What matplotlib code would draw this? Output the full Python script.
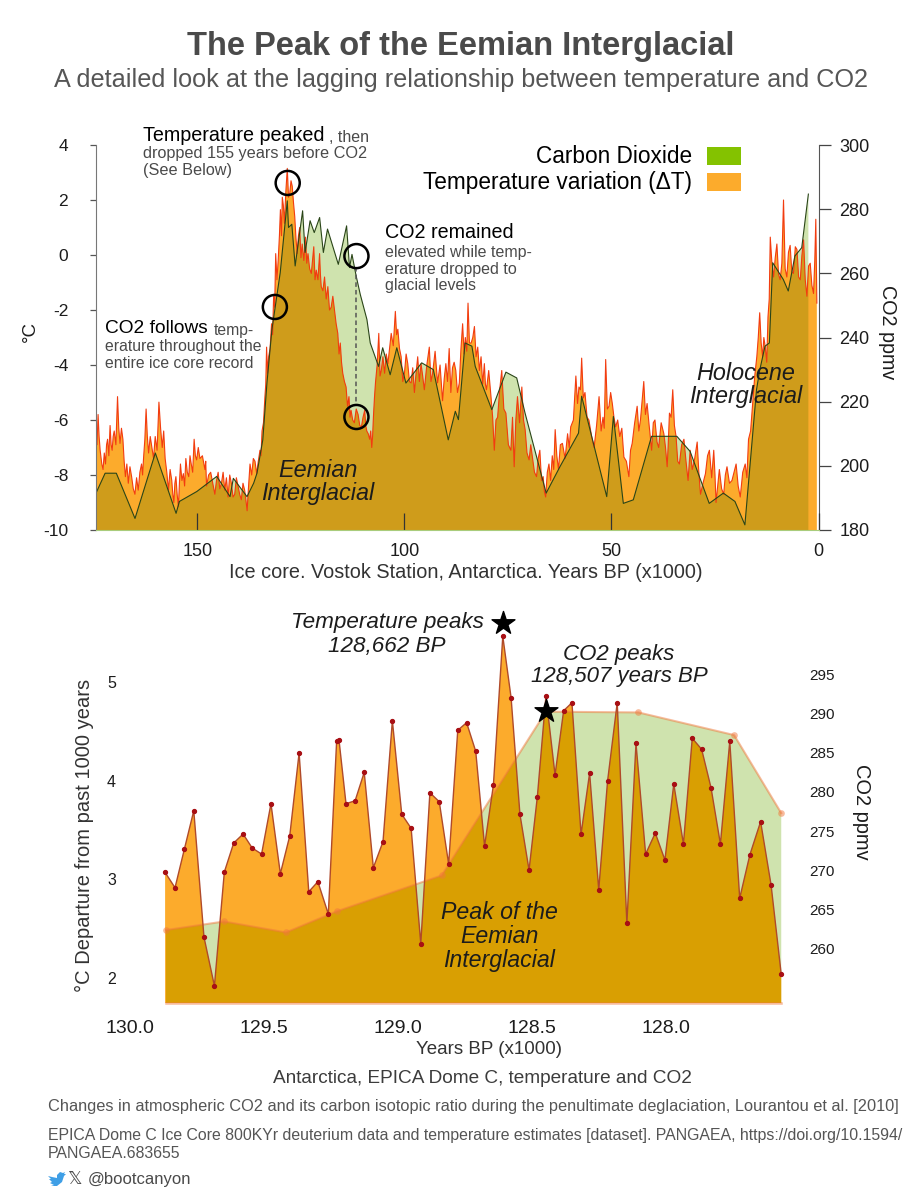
import numpy as np
import matplotlib
matplotlib.use("Agg")
import matplotlib.pyplot as plt
from matplotlib.patches import Rectangle, Polygon

plt.rcParams['font.family'] = ['Liberation Sans', 'DejaVu Sans']
plt.rcParams['axes.unicode_minus'] = False

W, H = 922, 1200

# =========================
# TOP PANEL: VOSTOK ICE CORE
# =========================

# (age in kyr BP, deg C)
temp_record = [
    (174.5, -6.0), (174.25, -6.9), (174.0, -5.8), (173.75, -6.6), (173.5, -7.1), (173.1, -7.6), (172.8, -7.8),
    (172.5, -7.2), (172.2, -7.6), (171.95, -6.9), (171.7, -6.7), (171.4, -7.3), (171.1, -6.2), (170.85, -6.9),
    (170.6, -7.1), (170.35, -6.6), (170.1, -6.4), (169.7, -6.9), (169.3, -5.15), (169.0, -6.3), (168.7, -6.85),
    (168.35, -6.3), (168.0, -6.7), (167.7, -7.5), (167.4, -8.06), (167.05, -7.6), (166.7, -8.3), (166.3, -7.7),
    (165.9, -8.06), (165.5, -8.5), (165.1, -8.7), (164.7, -8.1), (164.3, -8.55), (163.9, -7.9), (163.5, -7.6),
    (163.25, -8.0), (163.0, -7.35), (162.7, -6.7), (162.4, -5.6), (162.1, -6.6), (161.8, -7.2), (161.4, -6.6),
    (161.0, -7.0), (160.6, -7.4), (160.2, -6.6), (159.75, -7.1), (159.3, -5.35), (158.9, -6.3), (158.5, -7.0),
    (158.15, -6.4), (157.8, -7.4), (157.4, -7.9), (157.0, -8.55), (156.6, -7.8), (156.2, -8.2), (155.95, -8.7),
    (155.7, -9.0), (155.45, -8.3), (155.2, -8.06), (154.9, -8.7), (154.6, -9.15), (154.35, -8.3), (154.1, -7.6),
    (153.75, -8.2), (153.4, -7.95), (153.1, -8.4), (152.8, -7.4), (152.45, -7.9), (152.1, -8.06), (151.8, -7.3),
    (151.5, -7.6), (151.15, -7.9), (150.8, -6.7), (150.5, -7.3), (150.2, -7.45), (149.8, -7.0), (149.4, -7.4),
    (148.8, -7.3), (148.2, -7.8), (148.0, -7.5), (147.8, -8.4), (147.3, -8.0), (146.8, -7.9), (146.3, -8.3),
    (145.8, -8.7), (145.4, -8.2), (145.0, -7.9), (144.6, -8.5), (144.2, -8.3), (143.8, -7.9), (143.4, -8.55),
    (143.0, -8.1), (142.6, -8.8), (142.2, -8.0), (141.8, -8.3), (141.4, -8.8), (141.0, -8.7), (140.6, -8.1),
    (140.2, -8.4), (139.8, -8.7), (139.4, -8.9), (139.0, -8.3), (138.6, -8.55), (138.3, -8.9), (138.0, -9.3),
    (137.65, -8.4), (137.3, -7.6), (136.9, -8.0), (136.5, -7.4), (136.1, -7.5), (135.7, -7.95), (135.3, -7.5),
    (134.9, -7.1), (134.65, -7.3), (134.4, -6.4), (134.05, -6.1), (133.7, -5.15), (133.5, -4.7), (133.3, -3.35),
    (133.05, -4.3), (132.8, -3.7), (132.45, -3.4), (132.1, -2.5), (131.85, -2.9), (131.6, -1.5), (131.35, -1.9),
    (131.1, 0.05), (130.8, -0.9), (130.5, -0.2), (130.2, 0.7), (129.96, 1.65), (129.7, 0.7), (129.5, 2.1),
    (129.25, 1.8), (129.0, 1.15), (128.65, 2.3), (128.3, 3.15), (128.0, 2.1), (127.7, 2.25), (127.4, 2.7),
    (127.1, 2.5), (126.8, 1.9), (126.5, 1.4), (126.2, 0.6), (125.9, 0.05), (125.6, 0.7), (125.3, 1.0), (125.0, -0.1),
    (124.7, 0.4), (124.3, -0.2), (123.9, 0.65), (123.6, -0.3), (123.3, 0.05), (122.9, -0.5), (122.5, -0.67),
    (122.2, -0.2), (121.9, 0.3), (121.6, -0.9), (121.3, -0.55), (120.9, -0.9), (120.5, 0.05), (120.3, -0.7),
    (120.1, -1.15), (119.7, -1.3), (119.3, -0.8), (118.9, -1.6), (118.5, -1.15), (118.1, -2.0), (117.7, -1.9),
    (117.3, -1.5), (116.9, -2.0), (116.5, -2.5), (116.1, -2.85), (115.8, -3.6), (115.5, -3.2), (115.2, -3.9),
    (114.9, -4.3), (114.5, -4.6), (114.1, -4.8), (113.75, -5.5), (113.4, -5.15), (113.15, -5.9), (112.9, -5.65),
    (112.5, -6.0), (112.1, -6.1), (111.65, -5.6), (111.2, -5.8), (110.8, -6.2), (110.4, -6.25), (110.0, -5.9),
    (109.6, -5.65), (109.35, -6.2), (109.1, -6.4), (108.75, -6.5), (108.4, -6.7), (108.15, -6.4), (107.9, -7.0),
    (107.7, -6.6), (107.5, -5.9), (107.25, -5.2), (107.0, -4.65), (106.6, -4.0), (106.2, -2.85), (105.9, -4.4),
    (105.6, -4.2), (105.2, -3.7), (104.8, -4.3), (104.4, -3.6), (104.0, -3.95), (103.6, -3.4), (103.2, -2.85),
    (102.7, -3.3), (102.2, -2.05), (101.9, -2.9), (101.6, -2.7), (101.2, -3.4), (100.8, -3.7), (100.4, -4.6),
    (100.0, -4.3), (99.6, -3.6), (99.2, -3.95), (98.8, -4.6), (98.4, -4.65), (98.0, -4.1), (97.6, -5.0), (97.2, -4.3),
    (96.8, -3.7), (96.4, -4.6), (96.0, -3.95), (95.6, -4.4), (95.2, -4.9), (94.6, -4.0), (94.0, -3.35), (93.6, -4.6),
    (93.2, -4.3), (92.6, -3.5), (92.0, -4.65), (91.4, -4.0), (90.8, -5.3), (90.4, -4.5), (90.0, -3.95), (89.6, -4.6),
    (89.2, -3.4), (88.8, -5.0), (88.4, -4.1), (88.0, -3.9), (87.6, -4.2), (87.2, -5.0), (86.75, -4.65), (86.35, -3.4),
    (85.95, -2.5), (85.6, -3.6), (85.3, -3.0), (84.95, -3.5), (84.65, -1.75), (84.3, -3.2), (83.9, -3.2), (83.5, -3.0),
    (83.1, -2.6), (82.7, -3.7), (82.3, -3.35), (81.9, -4.2), (81.5, -3.7), (81.1, -4.7), (80.7, -3.95), (80.45, -4.7),
    (80.2, -4.9), (79.65, -4.2), (79.1, -5.15), (78.7, -5.9), (78.3, -7.1), (77.9, -6.0), (77.5, -5.9), (77.0, -4.9),
    (76.5, -4.2), (76.0, -5.6), (75.5, -5.75), (74.9, -6.9), (74.3, -7.1), (73.9, -5.9), (73.5, -7.7), (73.1, -6.0),
    (72.7, -5.15), (72.2, -6.1), (71.65, -4.8), (71.25, -6.0), (70.85, -6.35), (70.4, -7.2), (69.9, -7.45),
    (69.5, -6.9), (69.1, -7.35), (68.6, -7.9), (68.1, -8.06), (67.7, -7.4), (67.3, -7.1), (66.9, -8.2), (66.5, -8.06),
    (66.2, -8.6), (65.9, -8.8), (65.5, -7.9), (65.1, -7.6), (64.7, -8.2), (64.3, -7.3), (63.95, -7.8), (63.6, -6.35),
    (63.2, -7.3), (62.8, -7.8), (62.35, -6.9), (61.85, -6.85), (61.2, -7.4), (60.6, -6.5), (60.2, -7.0), (59.85, -6.25),
    (59.2, -6.0), (58.6, -4.4), (58.2, -5.4), (57.85, -4.8), (57.5, -4.9), (57.2, -3.75), (56.8, -5.2), (56.4, -5.0),
    (55.9, -5.9), (55.45, -6.0), (54.8, -6.6), (54.2, -7.0), (53.6, -6.2), (53.0, -5.15), (52.5, -6.4), (52.05, -5.9),
    (51.75, -6.3), (51.4, -3.8), (51.0, -5.6), (50.6, -5.5), (50.2, -5.0), (49.8, -5.4), (49.4, -5.9), (49.0, -6.25),
    (48.5, -6.0), (48.0, -6.6), (47.5, -6.3), (47.0, -7.35), (46.4, -7.5), (45.8, -8.06), (45.4, -7.1), (45.0, -6.85),
    (44.4, -6.1), (43.8, -5.5), (43.4, -6.4), (43.0, -6.0), (42.6, -5.3), (42.2, -4.6), (41.8, -5.8), (41.4, -5.4),
    (40.9, -6.2), (40.3, -7.1), (39.9, -6.1), (39.5, -6.0), (39.0, -6.8), (38.6, -7.0), (38.0, -6.1), (37.35, -6.5),
    (36.95, -7.0), (36.55, -7.7), (36.3, -6.9), (36.0, -5.75), (35.6, -5.9), (35.2, -4.9), (34.8, -6.2), (34.4, -6.6),
    (34.0, -7.5), (33.6, -7.6), (33.05, -6.9), (32.5, -6.7), (32.0, -7.5), (31.5, -8.2), (31.0, -7.1), (30.5, -7.8),
    (29.9, -7.4), (29.3, -6.8), (28.9, -7.9), (28.5, -8.7), (27.9, -8.3), (27.3, -7.95), (26.8, -7.3), (26.35, -7.1),
    (25.8, -8.1), (25.3, -7.1), (25.0, -8.0), (24.75, -9.0), (24.35, -8.4), (23.95, -7.8), (23.4, -8.5), (22.9, -8.7),
    (22.5, -8.0), (22.1, -7.7), (21.5, -8.3), (20.9, -8.2), (20.4, -7.9), (19.9, -7.6), (19.4, -8.4), (18.9, -8.8),
    (18.3, -7.9), (17.7, -7.6), (17.3, -8.1), (16.9, -6.7), (16.4, -6.4), (15.9, -5.4), (15.4, -4.4), (14.9, -3.7),
    (14.55, -3.0), (14.2, -2.1), (13.85, -3.2), (13.5, -3.7), (13.2, -3.0), (12.85, -3.35), (12.5, -3.9), (12.2, -2.25),
    (11.9, -1.6), (11.65, 0.65), (11.25, -0.3), (10.85, -0.8), (10.45, -0.1), (10.05, 0.4), (9.65, -0.7), (9.25, -0.9),
    (8.85, -0.3), (8.45, 2.0), (8.05, -0.5), (7.65, -0.8), (7.25, 0.1), (6.85, 0.35), (6.45, -0.6), (6.05, -0.67),
    (5.6, 0.3), (5.2, 0.2), (4.8, -0.8), (4.4, -0.9), (4.0, 0.0), (3.6, 0.55), (3.2, -0.9), (2.8, -1.5), (2.4, -0.4),
    (2.0, -0.3), (1.6, -1.1), (1.2, -1.4), (0.9, -0.2), (0.65, 1.3), (0.5, -0.6), (0.4, -1.75),
]
temp_age = [p[0] for p in temp_record]
temp_val = [p[1] for p in temp_record]

co2_age = [174.5, 172.3, 169.6, 165.1, 160.2, 155.2, 154.4, 150.2, 145.4, 142.2, 141.4, 138.1, 136.5, 135.7, 134.3,
           133.3, 132.1, 130.1, 128.4, 128.1, 127.3, 126.5, 124.7, 124.1, 122.9, 121.9, 120.6, 119.7, 118.7, 116.1,
           114.1, 113.4, 112.8, 111.8, 110.8, 109.2, 108.4, 106.4, 105.4, 103.6, 102.0, 99.8, 96.0, 93.2, 89.6, 87.9,
           87.15, 85.55, 83.9, 83.1, 79.1, 75.7, 73.1, 71.1, 66.0, 62.65, 58.2, 57.45, 51.4, 49.8, 47.4, 45.0, 40.6,
           34.5, 31.3, 26.7, 23.3, 20.5, 18.1, 15.3, 14.5, 13.25, 12.2, 11.4, 8.85, 7.65, 6.05, 4.4, 2.8]
co2_val = [191.5, 197.7, 197.7, 183.6, 204.0, 185.2, 188.9, 192.0, 196.7, 190.4, 196.1, 190.4, 194.6, 197.7, 208.1,
           225.8, 242.5, 260.2, 282.6, 274.3, 275.3, 262.3, 279.5, 266.5, 276.4, 272.7, 277.4, 266.5, 273.8, 262.8,
           274.8, 261.8, 265.9, 259.2, 253.4, 245.6, 238.3, 231.0, 236.8, 228.4, 236.8, 225.8, 232.1, 230.0, 208.1, 217.0,
           214.4, 238.3, 237.3, 231.0, 217.5, 229.2, 227.4, 216.5, 191.5, 199.8, 210.2, 221.7, 190.4, 215.4, 188.3, 189.4, 209.2,
           209.2, 204.5, 188.3, 191.5, 188.9, 181.6, 223.75, 230.0, 237.3, 238.3, 263.3, 258.1, 254.5, 265.4, 268.0, 284.7]

top_xticks = [150, 100, 50, 0]
top_temp_ticks = [4, 2, 0, -2, -4, -6, -8, -10]
top_co2_ticks = [300, 280, 260, 240, 220, 200, 180]

# circled spots on the top panel (age, deg C)
ring_age = [128.2, 131.3, 111.6, 111.6]
ring_temp = [2.62, -1.89, -0.04, -5.89]

# =========================
# BOTTOM PANEL: EPICA DOME C
# =========================

detail_age = [129.869, 129.832, 129.797, 129.762, 129.724, 129.685, 129.648, 129.613, 129.578, 129.544, 129.509,
              129.474, 129.439, 129.404, 129.369, 129.333, 129.299, 129.26, 129.229, 129.22, 129.194, 129.16, 129.126,
              129.092, 129.056, 129.021, 128.986, 128.951, 128.915, 128.881, 128.846, 128.811, 128.777, 128.744,
              128.71, 128.677, 128.644, 128.609, 128.578, 128.545, 128.511, 128.48, 128.448, 128.414, 128.382,
              128.351, 128.317, 128.285, 128.251, 128.218, 128.182, 128.146, 128.112, 128.076, 128.04, 128.004,
              127.971, 127.935, 127.902, 127.867, 127.832, 127.797, 127.762, 127.725, 127.687, 127.647, 127.608, 127.57]
detail_temp = [3.07, 2.915, 3.307, 3.695, 2.415, 1.92, 3.074, 3.368, 3.459, 3.317, 3.256,
               3.766, 3.057, 3.439, 4.28, 2.874, 2.976, 2.648, 4.40, 4.408, 3.766, 3.796, 4.084,
               3.118, 3.381, 4.607, 3.659, 3.517, 2.348, 3.877, 3.786, 3.155, 4.51, 4.587,
               4.297, 3.337, 3.955, 5.462, 4.84, 3.659, 3.094, 3.837, 4.857, 4.057, 4.708,
               4.789, 3.456, 4.077, 2.895, 3.996, 4.789, 2.554, 4.378, 3.256, 3.469, 3.196,
               3.966, 3.358, 4.429, 4.317, 3.928, 3.358, 4.398, 2.808, 3.249, 3.584, 2.945, 2.037]

detail_co2_age = [129.866, 129.649, 129.418, 129.229, 128.837, 128.448, 128.103, 127.746, 127.57]
detail_co2 = [262.3, 263.4, 262.0, 264.7, 269.3, 290.3, 290.2, 287.3, 277.3]

detail_xticks = [130.0, 129.5, 129.0, 128.5, 128.0]
detail_temp_ticks = [5, 4, 3, 2]
detail_co2_ticks = [295, 290, 285, 280, 275, 270, 265, 260]

# star markers (age, deg C)
star_age = [128.609, 128.448]
star_temp = [5.597, 4.705]

# =========================
# COLOURS
# =========================

GREEN_LIGHT = '#cfe3ae'
ORANGE = '#fcab2c'
OVERLAP_TOP = '#cf9c1b'
OVERLAP_BOTTOM = '#d99f02'
RED = '#f23c10'
DARK_GREEN = '#2a4518'
TEXT_DARK = '#1c1c1c'
TEXT_GREY = '#4a4a4a'


def px_axes(x0, y0, x1, y1):
    # axes box from picture pixels, y measured from the top
    return [x0 / W, 1 - y1 / H, (x1 - x0) / W, (y1 - y0) / H]


def label(x, y, s, size=12, color=TEXT_DARK, ha='left', **kw):
    return fig.text(x / W, 1 - (y + 1.5) / H, s, fontsize=size, color=color, ha=ha, va='center', **kw)


def draw_fills(ax_c, ax_t, t_x, t_y, t_base, c_x, c_y, c_base, overlap):
    # green under, orange over it, then the part where both overlap
    xs = np.r_[c_x[0], c_x, c_x[-1]]
    ys = np.r_[c_base, c_y, c_base]
    ax_c.fill(xs, ys, color=GREEN_LIGHT, lw=0)
    temp_poly = ax_t.fill(np.r_[t_x[0], t_x, t_x[-1]], np.r_[t_base, t_y, t_base], color=ORANGE, lw=0)[0]
    over_poly = ax_t.fill(xs, ys, color=overlap, lw=0, transform=ax_c.transData)[0]
    over_poly.set_clip_path(temp_poly)


fig = plt.figure(figsize=(W / 100, H / 100), dpi=100)

# =========================
# TOP PANEL
# =========================

top_box = px_axes(96, 145, 818.5, 530)
ax_co2 = fig.add_axes(top_box)
ax_temp = fig.add_axes(top_box, facecolor='none')

draw_fills(ax_co2, ax_temp, temp_age, temp_val, -10, co2_age, co2_val, 180, OVERLAP_TOP)
ax_temp.plot(temp_age, temp_val, color=RED, lw=0.8)
ax_temp.plot(co2_age, co2_val, color=DARK_GREEN, lw=0.8, transform=ax_co2.transData)

ax_temp.scatter(ring_age, ring_temp, s=300, facecolor='none', edgecolor='black', linewidth=1.8, zorder=5)
ax_temp.plot([111.6, 111.6], [-0.45, -5.45], color='#555555', lw=1.1, ls=(0, (3, 2)), zorder=4)

for ax in (ax_co2, ax_temp):
    ax.set_xlim(174.5, 0.36)
ax_co2.set_ylim(180, 300)
ax_temp.set_ylim(-10, 4)

ax_co2.xaxis.set_visible(False)
ax_co2.yaxis.tick_right()
ax_co2.set_yticks(top_co2_ticks)
ax_co2.tick_params(axis='y', length=8.6, width=0.9, color='#444444', labelsize=13, labelcolor=TEXT_DARK, pad=6.5)
ax_co2.spines[['top', 'left', 'bottom']].set_visible(False)
ax_co2.spines['right'].set_color('#555555')

ax_temp.set_yticks(top_temp_ticks)
ax_temp.tick_params(axis='y', length=4.3, width=0.9, color='#555555', labelsize=12.5, labelcolor=TEXT_DARK, pad=15.7)
ax_temp.set_xticks(top_xticks)
ax_temp.tick_params(axis='x', direction='in', length=12, width=0.9, color='#333333',
                    labelsize=13, labelcolor=TEXT_DARK, pad=9)
ax_temp.spines[['top', 'right']].set_visible(False)
ax_temp.spines['left'].set_color('#777777')
ax_temp.spines['bottom'].set_color('#a9cc7c')

# =========================
# BOTTOM PANEL
# =========================

low_box = px_axes(130, 620, 800, 1003)
ax_co2b = fig.add_axes(low_box, facecolor='none')
ax_tempb = fig.add_axes(low_box, facecolor='none')

draw_fills(ax_co2b, ax_tempb, detail_age, detail_temp, 1.747, detail_co2_age, detail_co2, 252.95, OVERLAP_BOTTOM)

# CO2 line is see-through, pink on the green and orange on the fills
line_co2 = dict(color='#f0783c', alpha=0.5, transform=ax_co2b.transData)
ax_tempb.plot(detail_co2_age, detail_co2, lw=1.5, marker='o', ms=4.8, mew=0, **line_co2)
ax_tempb.plot([detail_co2_age[0], detail_co2_age[-1]], [252.95, 252.95], lw=1.8, clip_on=False, **line_co2)

ax_tempb.plot(detail_age, detail_temp, color='#b04a2a', lw=1.0, marker='o', ms=2.8, mfc='#a80f14', mec='#a80f14')
ax_tempb.scatter(star_age, star_temp, marker='*', s=300, color='black', zorder=6, clip_on=False)

for ax in (ax_co2b, ax_tempb):
    ax.set_xlim(130, 127.5)
    ax.spines[:].set_visible(False)
ax_co2b.set_ylim(252.95, 302.05)
ax_tempb.set_ylim(1.747, 5.627)

ax_co2b.xaxis.set_visible(False)
ax_co2b.yaxis.tick_right()
ax_co2b.set_yticks(detail_co2_ticks)
ax_co2b.tick_params(axis='y', length=0, labelsize=11, labelcolor=TEXT_DARK, pad=7)

ax_tempb.set_yticks(detail_temp_ticks)
ax_tempb.tick_params(axis='y', length=0, labelsize=11.5, labelcolor=TEXT_DARK, pad=10)
ax_tempb.set_xticks(detail_xticks, [f'{v:.1f}' for v in detail_xticks])
ax_tempb.tick_params(axis='x', length=0, labelsize=14, labelcolor=TEXT_DARK, pad=12.5)

# =========================
# TITLES AND NOTES
# =========================

label(461, 45, 'The Peak of the Eemian Interglacial', size=23.5, color='#4a4a4a', ha='center', fontweight='bold')
label(461, 79, 'A detailed look at the lagging relationship between temperature and CO2', size=18.2,
      color='#565656', ha='center')

# legend, placed by hand like the original
label(692, 155, 'Carbon Dioxide', size=16.3, ha='right', color='black')
label(692, 181, 'Temperature variation (ΔT)', size=16.3, ha='right', color='black')
fig.add_artist(Rectangle((707 / W, 1 - 165 / H), 34 / W, 18 / H, transform=fig.transFigure, color='#84c200', lw=0))
fig.add_artist(Rectangle((707 / W, 1 - 191 / H), 34 / W, 18 / H, transform=fig.transFigure, color=ORANGE, lw=0))

label(143, 134, 'Temperature peaked', size=14.2, color='black')
label(329, 136, ', then', size=11.5, color=TEXT_GREY)
label(143, 152, 'dropped 155 years before CO2', size=11.7, color=TEXT_GREY)
label(143, 169, '(See Below)', size=11.7, color=TEXT_GREY)

label(385, 231, 'CO2 remained', size=14.2, color='black')
label(385, 251, 'elevated while temp-', size=11.5, color=TEXT_GREY)
label(385, 268, 'erature dropped to', size=11.5, color=TEXT_GREY)
label(385, 284, 'glacial levels', size=11.5, color=TEXT_GREY)

label(105, 327, 'CO2 follows', size=13.8, color='black')
label(214, 329, 'temp-', size=11.3, color=TEXT_GREY)
label(105, 345, 'erature throughout the', size=11.3, color=TEXT_GREY)
label(105, 362, 'entire ice core record', size=11.3, color=TEXT_GREY)

label(318, 469, 'Eemian', size=16.8, ha='center', style='italic')
label(318, 492, 'Interglacial', size=16.8, ha='center', style='italic')
label(746, 372, 'Holocene', size=16.8, ha='center', style='italic')
label(746, 395, 'Interglacial', size=16.8, ha='center', style='italic')

label(30, 330, '°C', size=13.5, ha='center', rotation=90)
label(887, 331, 'CO2 ppmv', size=14.2, ha='center', rotation=270)
label(466, 571, 'Ice core. Vostok Station, Antarctica. Years BP (x1000)', size=14.3, ha='center', color='#333333')

label(387, 621, 'Temperature peaks', size=16.2, ha='center', style='italic')
label(387, 645, '128,662 BP', size=16.2, ha='center', style='italic')
label(619, 653, 'CO2 peaks', size=16, ha='center', style='italic')
label(619, 675, '128,507 years BP', size=16, ha='center', style='italic')
label(499, 911, 'Peak of the', size=16.7, ha='center', style='italic')
label(499, 935, 'Eemian', size=16.7, ha='center', style='italic')
label(499, 959, 'Interglacial', size=16.7, ha='center', style='italic')

label(84, 834, '°C Departure from past 1000 years', size=14.5, ha='center', rotation=90, color='#333333')
label(861, 810, 'CO2 ppmv', size=14.4, ha='center', rotation=270)
label(489, 1048, 'Years BP (x1000)', size=13.5, ha='center', color='#333333')
label(482, 1077, 'Antarctica, EPICA Dome C, temperature and CO2', size=13.7, ha='center', color='#3c3c3c')

label(48, 1105, 'Changes in atmospheric CO2 and its carbon isotopic ratio during the penultimate deglaciation, '
      'Lourantou et al. [2010]', size=11.8, color='#555555')
label(48, 1134, 'EPICA Dome C Ice Core 800KYr deuterium data and temperature estimates [dataset]. PANGAEA, '
      'https://doi.org/10.1594/', size=11.47, color='#555555')
label(48, 1152, 'PANGAEA.683655', size=11.47, color='#555555')

# small bird and X next to the handle
bird_xy = [(48, 1176), (51, 1179), (49, 1179), (52, 1182), (50, 1183), (54, 1185), (51, 1186), (57, 1186),
           (62, 1182), (64, 1176), (66, 1174), (64, 1174), (65, 1172), (63, 1173), (60, 1172), (57, 1175),
           (57, 1178), (52, 1177)]
fig.add_artist(Polygon([(x / W, 1 - y / H) for x, y in bird_xy], closed=True, transform=fig.transFigure,
                       color='#3f9fe6', lw=0))
label(67, 1178, '𝕏', size=13, color='#4a4a4a', family=['DejaVu Sans', 'Liberation Sans'])
label(88, 1178, '@bootcanyon', size=12, color='#4a4a4a')

fig.savefig('out.png', dpi=100)
